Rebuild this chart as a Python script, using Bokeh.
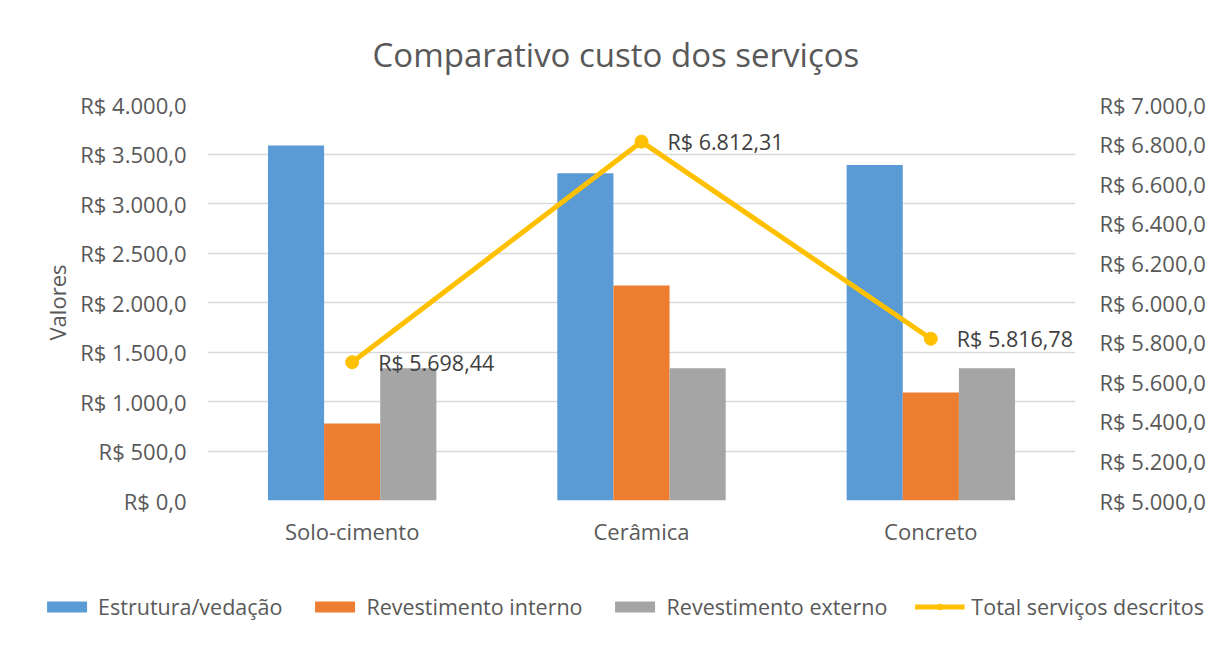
from bokeh.plotting import figure
from bokeh.models import (ColumnDataSource, Range1d, LinearAxis, FixedTicker,
                          Legend, LegendItem, FactorRange)
from bokeh.transform import dodge
from bokeh.core.properties import value
from bokeh.embed import file_html
from bokeh.resources import INLINE

# ---- data ----
categories = ["Solo-cimento", "Cerâmica", "Concreto"]
estrutura = [3586.0, 3305.0, 3390.0]
rev_interno = [777.0, 2172.0, 1092.0]
rev_externo = [1335.0, 1335.0, 1335.0]
total = [5698.44, 6812.31, 5816.78]

series_names = ["Estrutura/vedação", "Revestimento interno", "Revestimento externo",
                "Total serviços descritos"]

left_ticks = [0, 500, 1000, 1500, 2000, 2500, 3000, 3500, 4000]
left_tick_labels = ["R$ 0,0", "R$ 500,0", "R$ 1.000,0", "R$ 1.500,0", "R$ 2.000,0",
                    "R$ 2.500,0", "R$ 3.000,0", "R$ 3.500,0", "R$ 4.000,0"]
right_ticks = [5000, 5200, 5400, 5600, 5800, 6000, 6200, 6400, 6600, 6800, 7000]
right_tick_labels = ["R$ 5.000,0", "R$ 5.200,0", "R$ 5.400,0", "R$ 5.600,0",
                     "R$ 5.800,0", "R$ 6.000,0", "R$ 6.200,0", "R$ 6.400,0",
                     "R$ 6.600,0", "R$ 6.800,0", "R$ 7.000,0"]


def brl(v):
    s = f"{v:,.2f}"
    return "R$ " + s.replace(",", "X").replace(".", ",").replace("X", ".")


total_labels = [brl(v) for v in total]

FONT = "Open Sans"
TXT = "#595959"
COLORS = ["#5B9BD5", "#ED7D31", "#A5A5A5", "#FFC000"]

src = ColumnDataSource(dict(cat=categories, e=estrutura, ri=rev_interno,
                            re=rev_externo, t=total, tl=total_labels))

W = 1215
p = figure(x_range=FactorRange(*categories), y_range=Range1d(0, 4000),
           width=W, height=572, output_backend="svg", toolbar_location=None,
           min_border_left=207, min_border_right=140, min_border_top=104,
           min_border_bottom=72,
           title="Comparativo custo dos serviços")
p.extra_y_ranges = {"right": Range1d(5000, 7000)}

p.outline_line_color = None
p.background_fill_color = "white"
p.border_fill_color = "white"

# title
p.title.align = "left"
p.title.offset = 165
p.title.vertical_align = "bottom"
p.title.standoff = 56
p.title.text_font = FONT
p.title.text_font_size = "33px"
p.title.text_font_style = "normal"
p.title.text_color = TXT

# bars
bw = 0.194
p.vbar(x=dodge("cat", -bw, range=p.x_range), top="e", width=bw, source=src,
       fill_color=COLORS[0], line_color=None)
p.vbar(x=dodge("cat", 0.0, range=p.x_range), top="ri", width=bw, source=src,
       fill_color=COLORS[1], line_color=None)
p.vbar(x=dodge("cat", bw, range=p.x_range), top="re", width=bw, source=src,
       fill_color=COLORS[2], line_color=None)

# line on secondary axis
p.line(x="cat", y="t", source=src, y_range_name="right", line_color=COLORS[3],
       line_width=5)
p.scatter(x="cat", y="t", source=src, y_range_name="right", size=13,
          fill_color=COLORS[3], line_color=COLORS[3])
p.text(x="cat", y="t", text="tl", source=src, y_range_name="right", x_offset=26,
       text_baseline="middle", text_align="left", text_font=value(FONT),
       text_font_size="21.5px", text_color="#404040")

# axes
xa = p.xaxis[0]
xa.axis_line_color = None
xa.major_tick_line_color = None
xa.minor_tick_line_color = None
xa.major_label_text_font = FONT
xa.major_label_text_font_size = "22px"
xa.major_label_text_color = TXT
xa.major_label_standoff = 9

ya = p.yaxis[0]
ya.ticker = FixedTicker(ticks=left_ticks)
ya.major_label_overrides = {t: l for t, l in zip(left_ticks, left_tick_labels)}
ya.axis_line_color = None
ya.major_tick_line_color = None
ya.minor_tick_line_color = None
ya.major_label_text_font = FONT
ya.major_label_text_font_size = "22px"
ya.major_label_text_color = TXT
ya.major_label_standoff = 15
ya.axis_label = "Valores"
ya.axis_label_text_font = FONT
ya.axis_label_text_font_size = "22px"
ya.axis_label_text_font_style = "normal"
ya.axis_label_text_color = TXT
ya.axis_label_standoff = 5

ra = LinearAxis(y_range_name="right", ticker=FixedTicker(ticks=right_ticks))
ra.major_label_overrides = {t: l for t, l in zip(right_ticks, right_tick_labels)}
ra.axis_line_color = None
ra.major_tick_line_color = None
ra.minor_tick_line_color = None
ra.major_label_text_font = FONT
ra.major_label_text_font_size = "22px"
ra.major_label_text_color = TXT
ra.major_label_standoff = 18
p.add_layout(ra, "right")

# grid
p.xgrid.grid_line_color = None
p.ygrid.grid_line_color = "#d9d9d9"
p.ygrid.grid_line_width = 1.5
p.ygrid.ticker = FixedTicker(ticks=left_ticks)

# legend strip: its own canvas, below the chart (legend glyph renderers sit
# outside the visible range; they only supply the legend swatches)
lg = figure(width=W, height=68, x_range=Range1d(0, 1), y_range=Range1d(0, 1),
            output_backend="svg", toolbar_location=None, min_border=0,
            min_border_left=30, x_axis_type=None, y_axis_type=None)
lg.outline_line_color = None
lg.background_fill_color = "white"
lg.border_fill_color = "white"
e1 = lg.vbar(x=[5], top=[5], width=0.1, fill_color=COLORS[0], line_color=None)
e2 = lg.vbar(x=[5], top=[5], width=0.1, fill_color=COLORS[1], line_color=None)
e3 = lg.vbar(x=[5], top=[5], width=0.1, fill_color=COLORS[2], line_color=None)
e4 = lg.line(x=[5, 6], y=[5, 5], line_color=COLORS[3], line_width=5)
e5 = lg.scatter(x=[5], y=[5], size=12, fill_color=COLORS[3], line_color=COLORS[3])

legend = Legend(items=[
    LegendItem(label=series_names[0], renderers=[e1]),
    LegendItem(label=series_names[1], renderers=[e2]),
    LegendItem(label=series_names[2], renderers=[e3]),
    LegendItem(label=series_names[3], renderers=[e4, e5]),
], orientation="horizontal", location="center")
legend.label_text_font = FONT
legend.label_text_font_size = "21.5px"
legend.label_text_color = TXT
legend.glyph_width = 50
legend.glyph_height = 14
legend.label_standoff = 7
legend.spacing = 27
legend.padding = 0
legend.margin = 0
legend.border_line_color = None
legend.background_fill_alpha = 0
lg.add_layout(legend, "center")

open("out.html", "w").write(file_html([p, lg], INLINE))
